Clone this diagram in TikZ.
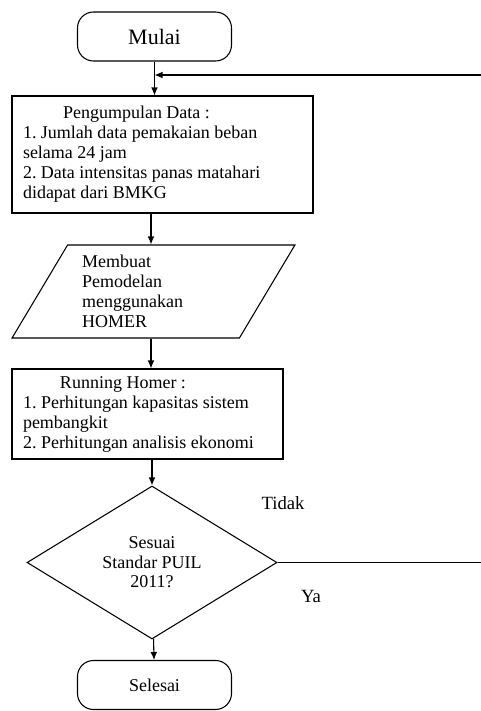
\documentclass[tikz,border=0pt]{standalone}
\usepackage{fontspec}
\setmainfont{Liberation Serif}
\usetikzlibrary{shapes.geometric,arrows.meta}
\frenchspacing

\tikzset{
  plainspace/.style={execute at begin node={\spaceskip=0pt\xspaceskip=0pt}},
  terminal/.style={draw, rounded corners=12pt, minimum width=115.5pt,
    minimum height=36.75pt, font=\fontsize{13.5}{15}\selectfont},
  procbox/.style={draw, align=left, inner xsep=8.25pt, plainspace,
    font=\fontsize{13.5}{15}\selectfont},
  iobox/.style={draw, trapezium, trapezium left angle=59,
    trapezium right angle=121, trapezium stretches, align=left, plainspace,
    font=\fontsize{13.5}{15}\selectfont},
  decision/.style={draw, diamond, aspect=1.634, minimum width=187.5pt,
    minimum height=114.75pt, inner sep=0pt, align=center, plainspace,
    font=\fontsize{13.5}{14.6}\selectfont},
  answer/.style={inner sep=0pt, font=\fontsize{14}{16}\selectfont}
}

\begin{document}
\begin{tikzpicture}[x=0.75pt, y=-0.75pt, line width=0.8pt,
    >={Latex[length=6pt,width=5pt]}]
  \useasboundingbox (0,0) rectangle (481,711);
  % flow blocks
  \node[terminal, font=\fontsize{16.5}{18}\selectfont] (mulai) at (154.5,36.5) {Mulai};
  \node[procbox, minimum width=225.75pt, minimum height=87.75pt,
    text width=209.25pt] (data) at (162.5,154.5)
    {\hspace*{30pt}Pengumpulan Data :\\1. Jumlah data pemakaian beban\\selama 24 jam\\
     2. Data intensitas panas matahari\\didapat dari BMKG};
  \node[iobox, minimum width=212.25pt, minimum height=69.75pt,
    text width=107pt] (model) at (153.5,291.5)
    {Membuat\\Pemodelan\\menggunakan\\HOMER};
  \node[procbox, minimum width=203.25pt, minimum height=67.5pt,
    text width=186.75pt] (run) at (147.5,414)
    {\hspace*{27.75pt}Running Homer :\\1. Perhitungan kapasitas sistem\\pembangkit\\
     2. Perhitungan analisis ekonomi};
  \node[decision] (cek) at (152,562.5) {Sesuai\\Standar PUIL\\2011?};
  \node[terminal] (selesai) at (154.5,685) {Selesai};
  % branch labels
  \node[answer] (tidak) at (283,503) {Tidak};
  \node[answer] (ya) at (311,596) {Ya};
  % connectors
  \coordinate (col) at (151,0);
  \coordinate (join) at (mulai.south |- 0,75);
  \coordinate (rim) at (484,0);
  \draw[->] (mulai) -- (mulai |- data.north);
  \draw[->] (data.south -| col) -- (model.north -| col);
  \draw[->] (model.south -| col) -- (run.north -| col);
  \draw[->] (run.south -| cek.north) -- (cek.north);
  \draw[->] (cek) -- (selesai);
  \draw[->] (cek.east) -- (cek.east -| rim) |- (join);
\end{tikzpicture}
\end{document}
